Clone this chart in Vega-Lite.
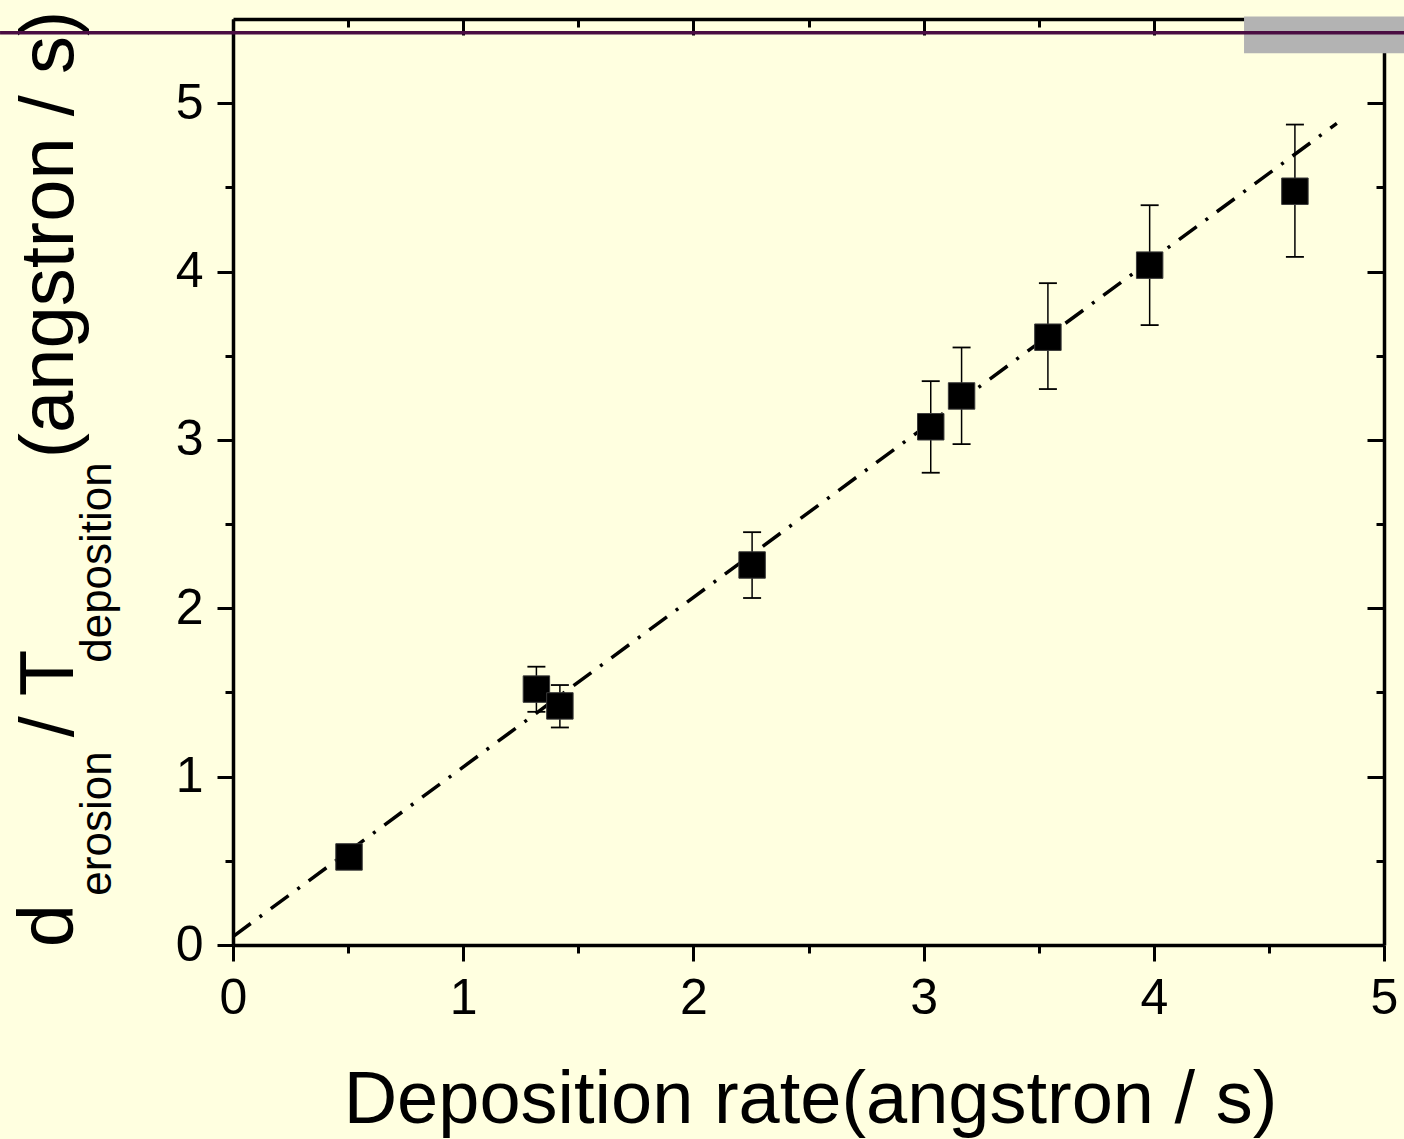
{
  "$schema": "https://vega.github.io/schema/vega-lite/v6.json",
  "width": 1151,
  "height": 926,
  "autosize": {"type": "none"},
  "padding": {"left": 233, "top": 19, "right": 20, "bottom": 194},
  "background": "#FFFFE0",
  "config": {
    "view": {"stroke": null},
    "axis": {
      "grid": false,
      "domainColor": "black",
      "tickColor": "black",
      "labelColor": "black",
      "titleColor": "black",
      "labelFont": "Liberation Sans",
      "titleFont": "Liberation Sans",
      "titleFontWeight": "normal",
      "zindex": 1
    }
  },
  "datasets": {
    "points": [
      {"x": 0.504, "y": 0.523, "lo": 0.47, "hi": 0.57},
      {"x": 1.318, "y": 1.52, "lo": 1.385, "hi": 1.653},
      {"x": 1.42, "y": 1.42, "lo": 1.292, "hi": 1.544},
      {"x": 2.255, "y": 2.257, "lo": 2.061, "hi": 2.452},
      {"x": 3.031, "y": 3.078, "lo": 2.805, "hi": 3.349},
      {"x": 3.165, "y": 3.261, "lo": 2.975, "hi": 3.549},
      {"x": 3.54, "y": 3.61, "lo": 3.302, "hi": 3.931},
      {"x": 3.982, "y": 4.038, "lo": 3.682, "hi": 4.394},
      {"x": 4.613, "y": 4.477, "lo": 4.087, "hi": 4.873}
    ],
    "fit": [
      {"x": 0.0, "y": 0.05},
      {"x": 4.795, "y": 4.88}
    ],
    "overlay": [
      {"x1": -1.012, "x2": 5.09, "y": 5.419}
    ],
    "patch": [
      {"x1": 4.392, "x2": 5.09, "y1": 5.297, "y2": 5.515}
    ]
  },
  "resolve": {"axis": {"x": "independent", "y": "independent"}},
  "layer": [
    {
      "data": {"name": "patch"},
      "mark": {"type": "rect", "color": "#B3B3B3", "opacity": 1},
      "encoding": {
        "x": {"field": "x1", "type": "quantitative", "scale": {"domain": [0, 5], "nice": false},
          "axis": {"orient": "bottom", "values": [0.5, 1.5, 2.5, 3.5, 4.5], "tickSize": 8, "tickWidth": 3, "labels": false, "domain": false, "title": null}},
        "x2": {"field": "x2"},
        "y": {"field": "y1", "type": "quantitative", "scale": {"domain": [0, 5.5], "nice": false},
          "axis": {"orient": "right", "values": [0.5, 1.5, 2.5, 3.5, 4.5], "tickSize": -8, "tickWidth": 3, "labels": false, "domain": false, "title": null}},
        "y2": {"field": "y2"}
      }
    },
    {
      "data": {"name": "fit"},
      "mark": {"type": "line", "color": "black", "strokeWidth": 3.5, "strokeDash": [22, 11, 3, 11]},
      "encoding": {
        "x": {"field": "x", "type": "quantitative", "scale": {"domain": [0, 5], "nice": false},
          "axis": {"orient": "bottom", "values": [0, 1, 2, 3, 4, 5], "tickSize": 16, "tickWidth": 3, "domainWidth": 3.5,
            "labelFontSize": 50, "labelPadding": 12, "labelFlush": false, "labelOverlap": false, "format": "d",
            "title": "Deposition rate(angstron / s)", "titleFontSize": 74, "titleAngle": 0, "titleX": 577, "titleY": 177,
            "titleAlign": "center", "titleBaseline": "alphabetic"}},
        "y": {"field": "y", "type": "quantitative", "scale": {"domain": [0, 5.5], "nice": false},
          "axis": {"orient": "left", "values": [0, 1, 2, 3, 4, 5], "tickSize": 16, "tickWidth": 3, "domainWidth": 3.5,
            "labelFontSize": 50, "labelPadding": 14, "labelFlush": false, "labelOverlap": false, "format": "d",
            "title": "d", "titleFontSize": 78, "titleAngle": -90, "titleX": -161, "titleY": 906,
            "titleAlign": "center", "titleBaseline": "alphabetic"}}
      }
    },
    {
      "data": {"name": "points"},
      "mark": {"type": "rule", "color": "black", "strokeWidth": 1.5},
      "encoding": {
        "x": {"field": "x", "type": "quantitative", "scale": {"domain": [0, 5], "nice": false},
          "axis": {"orient": "top", "values": [0, 1, 2, 3, 4, 5], "tickSize": -16, "tickWidth": 3, "domainWidth": 3.5, "labels": false, "title": null}},
        "y": {"field": "lo", "type": "quantitative", "scale": {"domain": [0, 5.5], "nice": false},
          "axis": {"orient": "right", "values": [0, 1, 2, 3, 4, 5], "tickSize": -17, "tickWidth": 3, "domainWidth": 3.5, "labels": false, "title": null}},
        "y2": {"field": "hi"}
      }
    },
    {
      "data": {"name": "points"},
      "mark": {"type": "tick", "orient": "horizontal", "color": "black", "size": 18, "thickness": 1.8, "opacity": 1},
      "encoding": {
        "x": {"field": "x", "type": "quantitative", "scale": {"domain": [0, 5], "nice": false},
          "axis": {"orient": "top", "values": [0.5, 1.5, 2.5, 3.5, 4.5], "tickSize": -8, "tickWidth": 3, "labels": false, "domain": false, "title": null}},
        "y": {"field": "hi", "type": "quantitative", "scale": {"domain": [0, 5.5], "nice": false},
          "axis": {"orient": "left", "values": [0.5, 1.5, 2.5, 3.5, 4.5], "tickSize": 8, "tickWidth": 3, "labels": false, "domain": false,
            "title": "erosion", "titleFontSize": 44, "titleAngle": -90, "titleX": -123, "titleY": 804,
            "titleAlign": "center", "titleBaseline": "alphabetic"}}
      }
    },
    {
      "data": {"name": "points"},
      "mark": {"type": "tick", "orient": "horizontal", "color": "black", "size": 18, "thickness": 1.8, "opacity": 1},
      "encoding": {
        "x": {"field": "x", "type": "quantitative", "scale": {"domain": [0, 5], "nice": false}, "axis": null},
        "y": {"field": "lo", "type": "quantitative", "scale": {"domain": [0, 5.5], "nice": false},
          "axis": {"orient": "left", "ticks": false, "labels": false, "domain": false,
            "title": "/ T", "titleFontSize": 76, "titleAngle": -90, "titleX": -161, "titleY": 674,
            "titleAlign": "center", "titleBaseline": "alphabetic"}}
      }
    },
    {
      "data": {"name": "points"},
      "mark": {"type": "square", "size": 700, "filled": true, "fill": "black", "stroke": "#3a3a3a", "strokeWidth": 1, "opacity": 1},
      "encoding": {
        "x": {"field": "x", "type": "quantitative", "scale": {"domain": [0, 5], "nice": false}, "axis": null},
        "y": {"field": "y", "type": "quantitative", "scale": {"domain": [0, 5.5], "nice": false},
          "axis": {"orient": "left", "ticks": false, "labels": false, "domain": false,
            "title": "deposition", "titleFontSize": 44, "titleAngle": -90, "titleX": -123, "titleY": 543,
            "titleAlign": "center", "titleBaseline": "alphabetic"}}
      }
    },
    {
      "data": {"name": "overlay"},
      "mark": {"type": "rule", "color": "#4A0D42", "strokeWidth": 3.5},
      "encoding": {
        "x": {"field": "x1", "type": "quantitative", "scale": {"domain": [0, 5], "nice": false}, "axis": null},
        "x2": {"field": "x2"},
        "y": {"field": "y", "type": "quantitative", "scale": {"domain": [0, 5.5], "nice": false},
          "axis": {"orient": "left", "ticks": false, "labels": false, "domain": false,
            "title": "(angstron / s)", "titleFontSize": 76, "titleAngle": -90, "titleX": -161, "titleY": 215,
            "titleAlign": "center", "titleBaseline": "alphabetic"}}
      }
    }
  ]
}
